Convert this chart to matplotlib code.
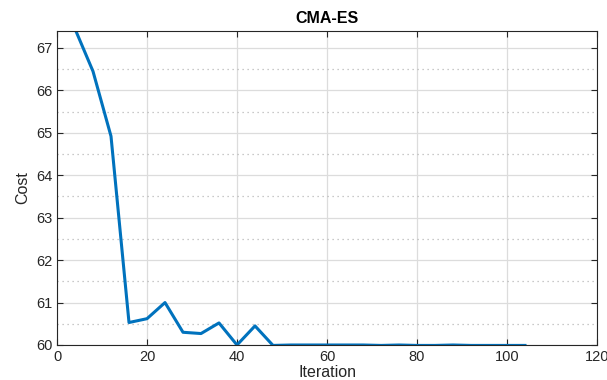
import matplotlib.pyplot as plt
import numpy as np

plt.rcParams['font.family'] = ['Liberation Sans', 'DejaVu Sans']

# convergence data
iteration = [4, 8, 12, 16, 20, 24, 28, 32, 36, 40, 44, 48, 52, 56, 60, 64, 68,
             72, 76, 80, 84, 88, 92, 96, 100, 104]
cost = [67.45, 66.45, 64.92, 60.53, 60.62, 61.0, 60.3, 60.27, 60.52, 60.0,
        60.45, 59.99, 60.0, 60.0, 60.0, 60.0, 60.0, 59.99, 60.0, 59.99,
        59.99, 60.0, 59.99, 59.99, 59.99, 59.99]

fig = plt.figure(figsize=(6.07, 3.80), dpi=100)
ax = fig.add_axes([57 / 607, 1 - 345 / 380, 540 / 607, 314 / 380])

ax.plot(iteration, cost, color='#0072BD', lw=2.2)

ax.set_xlim(0, 120)
ax.set_ylim(60, 67.4)
ax.set_xticks(np.arange(0, 121, 20))
ax.set_yticks(np.arange(60, 68, 1))
ax.set_yticks(np.arange(60.5, 67.4, 1), minor=True)

# matlab style grid: solid major, dotted minor
ax.grid(which='major', color='#dcdcdc', lw=0.9)
ax.grid(which='minor', axis='y', color='#b8b8b8', lw=0.9, linestyle=(0, (1, 3)))
ax.set_axisbelow(True)

ax.tick_params(which='both', direction='in', top=True, right=True,
               labelsize=10.5, colors='#262626', length=4)
ax.tick_params(which='minor', length=0)
for s in ax.spines.values():
    s.set_color('#262626')
    s.set_linewidth(0.8)

ax.set_xlabel('Iteration', fontsize=11.5, color='#262626', labelpad=1)
ax.set_ylabel('Cost', fontsize=11.5, color='#262626', labelpad=4)
ax.set_title('CMA-ES', fontsize=11.5, fontweight='bold', pad=6)

fig.savefig('out.png', dpi=100)
